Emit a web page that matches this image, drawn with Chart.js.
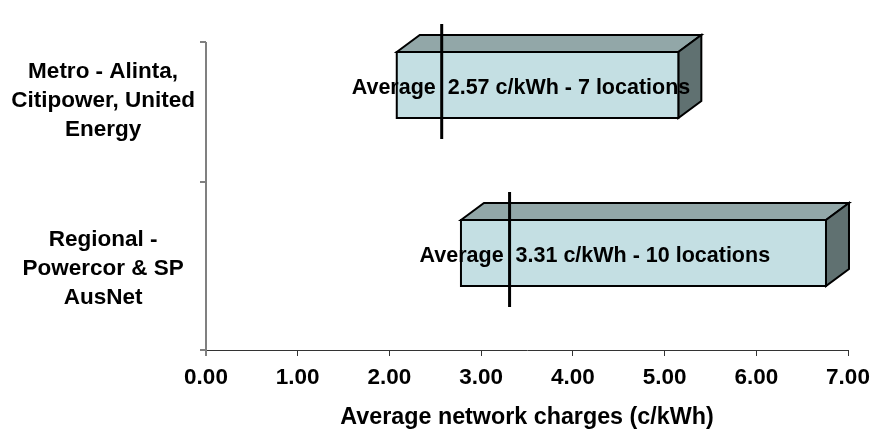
<!DOCTYPE html>
<html>
<head>
<meta charset="utf-8">
<script src="https://cdn.jsdelivr.net/npm/chart.js@4.4.1/dist/chart.umd.min.js"></script>
<style>
  html, body { margin: 0; padding: 0; background: #fff; }
  #wrap { width: 872px; height: 432px; }
</style>
</head>
<body>
<div id="wrap"><canvas id="chart" width="872" height="432"></canvas></div>
<script>
// Network tariff ranges by distribution area (c/kWh)
const categories = [
  ['Metro - Alinta,', 'Citipower, United', 'Energy'],
  ['Regional -', 'Powercor & SP', 'AusNet']
];
const rangeLow = [2.08, 2.78];
const rangeHigh = [5.15, 6.76];
const averages = [2.57, 3.31];
const locationCounts = [7, 10];
const tickLabels = ['0.00', '1.00', '2.00', '3.00', '4.00', '5.00', '6.00', '7.00'];
const axisTitle = 'Average network charges (c/kWh)';

const FONT = "'Liberation Sans', Arial, sans-serif";

// 3D look of the bars: depth projection and face colours
const DEPTH_X = 23;
const DEPTH_Y = -17;
const FRONT_SHIFT = -13;     // front face sits above the category centre
const WALL_TOP_INSET = 28;   // value axis line starts below the plot top
const FACE_FRONT = '#C4DFE3';
const FACE_TOP = '#92A7A8';
const FACE_SIDE = '#607171';

const prism3d = {
  id: 'prism3d',
  beforeDatasetsDraw(chart) {
    const { ctx, chartArea } = chart;
    const x = chartArea.left;
    const top = chartArea.top + WALL_TOP_INSET;
    ctx.save();
    ctx.strokeStyle = '#808080';
    ctx.lineWidth = 2;
    ctx.beginPath();
    ctx.moveTo(x, top);
    ctx.lineTo(x, chartArea.bottom + 6);
    ctx.moveTo(x - 6, top);
    ctx.lineTo(x, top);
    ctx.stroke();
    ctx.restore();
  },
  afterDatasetsDraw(chart) {
    const { ctx } = chart;
    const xScale = chart.scales.x;
    const yScale = chart.scales.y;
    const meta = chart.getDatasetMeta(0);
    ctx.save();
    ctx.lineJoin = 'miter';
    meta.data.forEach((bar) => {
      const p = bar.getProps(['x', 'y', 'base', 'height'], true);
      const left = Math.min(p.x, p.base);
      const right = Math.max(p.x, p.base);
      const top = p.y - p.height / 2 + FRONT_SHIFT;
      const bottom = p.y + p.height / 2 + FRONT_SHIFT;
      ctx.lineWidth = 2;
      ctx.strokeStyle = '#000';

      // top face
      ctx.beginPath();
      ctx.moveTo(left, top);
      ctx.lineTo(left + DEPTH_X, top + DEPTH_Y);
      ctx.lineTo(right + DEPTH_X, top + DEPTH_Y);
      ctx.lineTo(right, top);
      ctx.closePath();
      ctx.fillStyle = FACE_TOP;
      ctx.fill();
      ctx.stroke();

      // side face
      ctx.beginPath();
      ctx.moveTo(right, top);
      ctx.lineTo(right + DEPTH_X, top + DEPTH_Y);
      ctx.lineTo(right + DEPTH_X, bottom + DEPTH_Y);
      ctx.lineTo(right, bottom);
      ctx.closePath();
      ctx.fillStyle = FACE_SIDE;
      ctx.fill();
      ctx.stroke();

      // front face
      ctx.beginPath();
      ctx.rect(left, top, right - left, bottom - top);
      ctx.fillStyle = FACE_FRONT;
      ctx.fill();
      ctx.stroke();
    });

    // average markers and their labels
    averages.forEach((avg, i) => {
      const ax = xScale.getPixelForValue(avg);
      const cy = yScale.getPixelForValue(i);
      ctx.beginPath();
      ctx.lineWidth = 3;
      ctx.strokeStyle = '#000';
      ctx.moveTo(ax, cy - 74);
      ctx.lineTo(ax, cy + 41);
      ctx.stroke();

      ctx.fillStyle = '#000';
      ctx.font = 'bold 21.5px ' + FONT;
      ctx.textAlign = 'left';
      ctx.textBaseline = 'middle';
      const text = 'Average  ' + avg.toFixed(2) + ' c/kWh - ' + locationCounts[i] + ' locations';
      ctx.fillText(text, ax - 90, cy + FRONT_SHIFT + 3);
    });
    ctx.restore();
  }
};

new Chart(document.getElementById('chart'), {
  type: 'bar',
  data: {
    labels: categories,
    datasets: [{
      data: categories.map((_, i) => [rangeLow[i], rangeHigh[i]]),
      backgroundColor: 'rgba(0,0,0,0)',
      borderWidth: 0,
      barThickness: 66
    }]
  },
  options: {
    indexAxis: 'y',
    responsive: false,
    animation: false,
    layout: { padding: { top: 14, right: 24, left: 0, bottom: 0 } },
    plugins: {
      legend: { display: false },
      tooltip: { enabled: false }
    },
    scales: {
      x: {
        type: 'linear',
        min: 0,
        max: 7,
        ticks: {
          stepSize: 1,
          autoSkip: false,
          maxRotation: 0,
          callback: (v, i) => tickLabels[i],
          color: '#000',
          padding: 8,
          font: { family: FONT, size: 22.5, weight: 'bold' }
        },
        grid: { drawOnChartArea: false, drawTicks: true, tickLength: 6, color: '#333' },
        border: { display: true, color: '#333', width: 1 },
        title: {
          display: true,
          text: axisTitle,
          color: '#000',
          font: { family: FONT, size: 23.3, weight: 'bold' },
          padding: { top: 8, bottom: 0 }
        },
        afterFit: s => { s.height = 82; s.paddingLeft = 0; s.paddingRight = 0; }
      },
      y: {
        type: 'category',
        ticks: {
          color: '#000',
          crossAlign: 'center',
          padding: 5,
          labelOffset: 3,
          font: { family: FONT, size: 22.5, weight: 'bold', lineHeight: 1.3 }
        },
        grid: {
          drawOnChartArea: false,
          drawTicks: true,
          tickLength: 6,
          lineWidth: 2,
          color: c => (c.index === 0 ? 'rgba(0,0,0,0)' : '#808080')
        },
        border: { display: false },
        afterFit: s => { s.width = 206; s.paddingTop = 0; s.paddingBottom = 0; }
      }
    }
  },
  plugins: [prism3d]
});
</script>
</body>
</html>
